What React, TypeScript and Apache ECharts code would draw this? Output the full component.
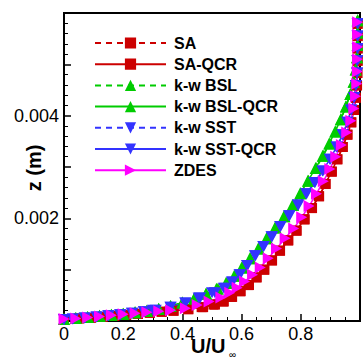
import React, { useEffect, useRef } from "react";
import * as echarts from "echarts";

// ---- Data (U/U∞ , z in m) ----
const saZ = [0.00003,0.00005,0.00006,0.00008,0.0001,0.00012,0.00014,0.00016,0.00018,0.0002,0.00023,0.00027,0.00032,0.00038,0.00047,0.00058,0.0007,0.00085,0.001,0.00118,0.00137,0.00157,0.00176,0.00198,0.0022,0.00243,0.00267,0.00291,0.00315,0.00339,0.00363,0.00387,0.00411,0.00435,0.00459,0.00483,0.00507,0.00531,0.00555,0.00579];
const saU = [0.0,0.05,0.09,0.13,0.17,0.21,0.25,0.29,0.33,0.37,0.42,0.47,0.51,0.54,0.568,0.597,0.625,0.651,0.677,0.703,0.73,0.758,0.786,0.813,0.838,0.862,0.884,0.905,0.924,0.942,0.958,0.971,0.98,0.986,0.99,0.991,0.992,0.992,0.992,0.992];
const saqcrU = [0.0,0.05,0.09,0.13,0.17,0.21,0.25,0.29,0.33,0.37,0.42,0.465,0.505,0.537,0.566,0.595,0.623,0.65,0.676,0.702,0.729,0.757,0.785,0.812,0.837,0.861,0.883,0.904,0.923,0.941,0.957,0.97,0.98,0.986,0.99,0.991,0.992,0.992,0.992,0.992];

const bslZ = [0.00004,0.00006,0.00008,0.0001,0.00012,0.00014,0.00017,0.0002,0.00024,0.00029,0.00036,0.00044,0.00053,0.00063,0.00074,0.00088,0.00104,0.00122,0.00141,0.00161,0.00182,0.00204,0.00226,0.00249,0.00273,0.00298,0.00322,0.00346,0.00369,0.00393,0.00418,0.00442,0.00466,0.0049,0.00514,0.00538,0.00562,0.00586];
const bslU = [0.0,0.04,0.08,0.12,0.16,0.2,0.24,0.28,0.32,0.36,0.4,0.44,0.48,0.52,0.55,0.578,0.603,0.63,0.658,0.686,0.715,0.745,0.774,0.8,0.826,0.852,0.876,0.898,0.918,0.936,0.953,0.968,0.979,0.986,0.99,0.992,0.992,0.992];
const bslqcrU = [0.0,0.04,0.08,0.12,0.16,0.2,0.24,0.28,0.32,0.36,0.4,0.44,0.48,0.515,0.547,0.575,0.6,0.628,0.656,0.684,0.713,0.743,0.772,0.798,0.824,0.85,0.874,0.896,0.916,0.935,0.952,0.967,0.978,0.985,0.99,0.992,0.992,0.992];

const sstZ = [0.00003,0.00004,0.00006,0.00008,0.0001,0.00012,0.00015,0.00018,0.00021,0.00027,0.00035,0.00045,0.00055,0.00064,0.00076,0.0009,0.00108,0.00127,0.00145,0.00164,0.00184,0.00205,0.00226,0.00248,0.0027,0.00292,0.00315,0.00339,0.00363,0.00387,0.00411,0.00435,0.00459,0.00483,0.00507,0.00531,0.00555,0.00579];
const sstU = [0.0,0.03,0.07,0.11,0.15,0.19,0.23,0.27,0.3,0.36,0.41,0.46,0.51,0.545,0.57,0.595,0.62,0.647,0.675,0.703,0.732,0.762,0.792,0.82,0.848,0.875,0.9,0.922,0.942,0.958,0.971,0.98,0.986,0.99,0.991,0.992,0.992,0.992];
const sstqcrU = [0.0,0.03,0.07,0.11,0.15,0.19,0.23,0.27,0.31,0.36,0.41,0.455,0.5,0.54,0.567,0.593,0.618,0.645,0.673,0.701,0.73,0.76,0.79,0.818,0.846,0.873,0.898,0.921,0.941,0.957,0.97,0.98,0.986,0.99,0.991,0.992,0.992,0.992];

const zdesZ = [0.00004,0.00005,0.00007,0.00009,0.00011,0.00013,0.00015,0.00017,0.00019,0.00021,0.00025,0.00031,0.00038,0.00046,0.00055,0.00065,0.00077,0.0009,0.00104,0.00122,0.00141,0.00161,0.0018,0.00202,0.00224,0.00248,0.00272,0.00296,0.0032,0.00343,0.00367,0.0039,0.00414,0.00438,0.00462,0.00486,0.0051,0.00534,0.00558,0.00582];
const zdesU = [0.0,0.04,0.08,0.12,0.16,0.2,0.24,0.28,0.32,0.36,0.41,0.45,0.49,0.53,0.56,0.585,0.61,0.637,0.663,0.69,0.718,0.747,0.776,0.803,0.828,0.853,0.876,0.898,0.918,0.937,0.955,0.969,0.979,0.985,0.989,0.991,0.992,0.992,0.992,0.992];

const seriesNames = ["SA", "SA-QCR", "k-w BSL", "k-w BSL-QCR", "k-w SST", "k-w SST-QCR", "ZDES"];
const xLabelValues = [0, 0.2, 0.4, 0.6, 0.8];
const yLabelValues = [0.002, 0.004];

const RED = "#cc0000";
const GREEN = "#00cc00";
const BLUE = "#3333ff";
const MAGENTA = "#ff00ff";
const FONT = '"Liberation Sans", Arial, Helvetica, sans-serif';

const DOWN = "path://M0,0L10,0L5,9Z";
const RIGHT = "path://M0,0L9,5L0,10Z";

function mk(name: string, u: number[], z: number[], color: string, symbol: string, size: any, dashed: boolean) {
  return {
    type: "line",
    name,
    data: u.map((x, i) => [x, z[i]]),
    symbol,
    symbolSize: size,
    showAllSymbol: true,
    clip: false,
    lineStyle: { color, width: 1.5, type: dashed ? [6, 5] : "solid" },
    itemStyle: { color, borderWidth: 0 },
    emphasis: { disabled: true },
  };
}

export default function App() {
  const ref = useRef<HTMLDivElement>(null);
  useEffect(() => {
    if (!ref.current) return;
    const chart = echarts.init(ref.current, null, { renderer: "svg" });
    chart.setOption({
      animation: false,
      backgroundColor: "#fff",
      grid: { left: 64, right: -1, top: 13, bottom: 38, show: true, borderColor: "#000", borderWidth: 2, backgroundColor: "transparent" },
      legend: {
        orient: "vertical",
        left: 89,
        top: 30,
        itemWidth: 71,
        itemHeight: 14,
        itemGap: 5.2,
        data: seriesNames,
        textStyle: { fontFamily: FONT, fontWeight: "bold", fontSize: 16, color: "#000", padding: [0, 0, 0, 3], lineHeight: 14 },
      },
      xAxis: {
        type: "value",
        min: 0,
        max: 1,
        interval: 0.2,
        axisLine: { lineStyle: { color: "#000", width: 2 } },
        axisTick: { inside: true, length: 7, lineStyle: { color: "#000", width: 1.5 } },
        minorTick: { show: true, splitNumber: 4, length: 4, lineStyle: { color: "#000", width: 1 } },
        splitLine: { show: false },
        axisLabel: {
          color: "#000",
          fontFamily: FONT,
          fontSize: 18,
          margin: 4,
          formatter: (v: number) => (xLabelValues.some((t) => Math.abs(t - v) < 1e-9) ? String(Number(v.toFixed(1))) : ""),
        },
      },
      yAxis: {
        type: "value",
        min: 0,
        max: 0.006,
        interval: 0.001,
        axisLine: { lineStyle: { color: "#000", width: 2 } },
        axisTick: { inside: true, length: 7, lineStyle: { color: "#000", width: 1.5 } },
        minorTick: { show: true, splitNumber: 5, length: 4, lineStyle: { color: "#000", width: 1 } },
        splitLine: { show: false },
        axisLabel: {
          color: "#000",
          fontFamily: FONT,
          fontSize: 18,
          margin: 5,
          formatter: (v: number) => (yLabelValues.some((t) => Math.abs(t - v) < 1e-9) ? v.toFixed(3) : ""),
        },
      },
      graphic: [
        { type: "text", x: 191, y: 346, style: { text: "U/U", font: `bold 20px ${FONT}`, fill: "#000", align: "left", verticalAlign: "middle" } },
        { type: "text", x: 229, y: 354, style: { text: "∞", font: `10px ${FONT}`, fill: "#000", align: "left", verticalAlign: "middle" } },
        { type: "text", x: 34, y: 168, rotation: Math.PI / 2, style: { text: "z (m)", font: `bold 20px ${FONT}`, fill: "#000", align: "center", verticalAlign: "middle" } },
      ],
      series: [
        mk("SA", saU, saZ, RED, "rect", 10, true),
        mk("SA-QCR", saqcrU, saZ, RED, "rect", 10, false),
        mk("k-w BSL", bslU, bslZ, GREEN, "triangle", 12, true),
        mk("k-w BSL-QCR", bslqcrU, bslZ, GREEN, "triangle", 12, false),
        mk("k-w SST", sstU, sstZ, BLUE, DOWN, [12, 11], true),
        mk("k-w SST-QCR", sstqcrU, sstZ, BLUE, DOWN, [12, 11], false),
        mk("ZDES", zdesU, zdesZ, MAGENTA, RIGHT, [11, 12], false),
      ],
    });
    return () => chart.dispose();
  }, []);
  return <div ref={ref} style={{ position: "fixed", left: 0, top: 0, width: 363, height: 359 }} />;
}
